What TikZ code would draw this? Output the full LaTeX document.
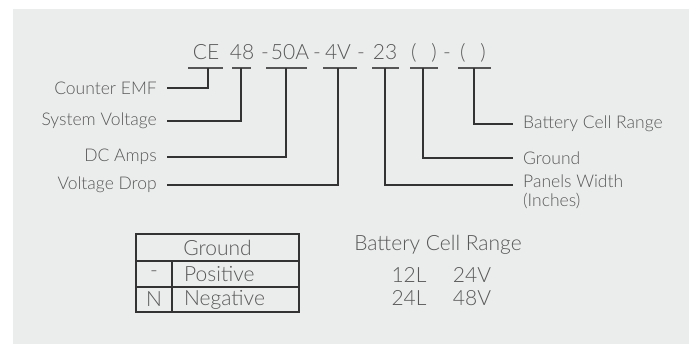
\documentclass[tikz,border=0pt]{standalone}
\usepackage{fontspec}
\IfFontExistsTF{Lato Light}{\setmainfont{Lato Light}}{\setmainfont{Lato}}
\usetikzlibrary{positioning}
\definecolor{cebg}{HTML}{EBECEC}
\definecolor{cetext}{HTML}{585858}
\definecolor{celine}{HTML}{333333}
\definecolor{cebar}{HTML}{555555}

\begin{document}
\begin{tikzpicture}[x=1pt, y=-1pt,
  code/.style={text=cetext, font=\fontsize{21}{23}\selectfont, inner sep=0pt, anchor=base},
  bar/.style={draw=cebar, line width=1.6pt},
  conn/.style={draw=celine, line width=1.1pt},
  lblL/.style={text=cetext, font=\fontsize{17.5}{19}\selectfont, anchor=east, inner xsep=10pt, inner ysep=0pt},
  lblR/.style={text=cetext, font=\fontsize{17.5}{19}\selectfont, anchor=west, inner xsep=10pt, inner ysep=0pt, align=left},
  tab/.style={draw=celine, line width=1.1pt},
  cell/.style={text=cetext, font=\fontsize{21}{23}\selectfont, inner sep=0pt}
]
\useasboundingbox (0,0) rectangle (689,344);
\fill[cebg] (13,9) rectangle (689,344);

% the code
\foreach \x/\t in {206/CE, 242/48, 265/-, 290/50A, 317/-, 338/4V, 361/-, 385/23,
  424/{(\hspace{15pt})}, 447/-, 473/{(\hspace{15pt})}}
  \node[code] at (\x,60) {\t};

% underlines and drop points
\foreach \n/\a/\b/\d in {ce/188/223/208, sv/232/251/241, dc/266/307/286, vd/323/357/338,
  pw/372/399/385, gd/410/438/423, bc/458/491/474} {
  \draw[bar] (\a,68) -- (\b,68);
  \coordinate (\n) at (\d,68);
}

% labels
\node[lblL] (lce) at (167,88) {Counter EMF};
\node[lblL] (lsv) at (167,121) {System Voltage};
\node[lblL] (ldc) at (167,157) {DC Amps};
\node[lblL] (lvd) at (167,185) {Voltage Drop};
\node[lblR] (lbc) at (513,124) {Battery Cell Range};
\node[lblR] (lgd) at (513,158) {Ground};
\node[lblR, anchor=north west] (lpw) at (513,175) {Panels Width\\(Inches)};

\draw[conn] (ce) |- (lce.east);
\draw[conn] (sv) |- (lsv.east);
\draw[conn] (dc) |- (ldc.east);
\draw[conn] (vd) |- (lvd.east);
\draw[conn] (bc) |- (lbc.west);
\draw[conn] (gd) |- (lgd.west);
\draw[conn] (pw) |- ([yshift=-10pt]lpw.north west);

% ground table
\draw[tab] (136,234) rectangle (299,312);
\draw[tab] (136,261) -- (299,261) (136,287) -- (299,287) (172,261) -- (172,312);
\node[cell] (tg) at (217.5,247.5) {Ground};
\node[cell] (tm) at (154,274) {-};
\node[cell] (tn) at (154,299.5) {N};
\node[cell, anchor=west] (tp) at (184,274) {Positive};
\node[cell, anchor=west] (tq) at (184,299.5) {Negative};

% battery cell range
\node[cell] (br) at (438,245) {Battery Cell Range};
\node[cell] (b1) at (409,275) {12L};
\node[cell] (b2) at (472,275) {24V};
\node[cell] (b3) at (409,298) {24L};
\node[cell] (b4) at (472,298) {48V};
\end{tikzpicture}
\end{document}
